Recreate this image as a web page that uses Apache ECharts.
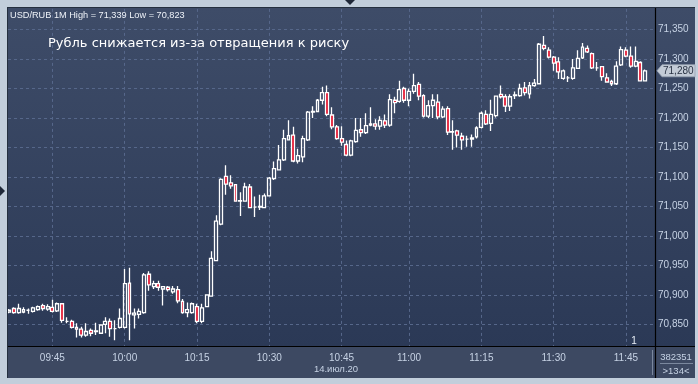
<!DOCTYPE html>
<html><head><meta charset="utf-8">
<script src="https://cdn.jsdelivr.net/npm/echarts@6/dist/echarts.min.js"></script>
<style>html,body{margin:0;padding:0;background:#c2cedb}#c{width:698px;height:384px}</style>
</head><body><div id="c"></div>
<script>
const opens = [70.871,70.877,70.870,70.871,70.874,70.872,70.875,70.882,70.876,70.879,70.873,70.885,70.855,70.855,70.845,70.842,70.832,70.840,70.838,70.835,
70.850,70.855,70.843,70.845,70.845,70.920,70.866,70.867,70.870,70.935,70.914,70.919,70.910,70.913,70.905,70.909,70.889,70.870,70.870,70.880,
70.855,70.880,70.898,70.958,71.020,71.101,71.090,71.087,71.059,71.059,71.083,71.049,71.049,71.048,71.068,71.097,71.112,71.129,71.163,71.171,
71.127,71.134,71.163,71.210,71.211,71.230,71.243,71.205,71.185,71.165,71.155,71.137,71.160,71.180,71.175,71.188,71.190,71.186,71.195,71.188,
71.230,71.228,71.250,71.230,71.245,71.257,71.238,71.203,71.221,71.227,71.202,71.216,71.176,71.178,71.169,71.164,71.164,71.168,71.184,71.206,
71.191,71.204,71.240,71.236,71.220,71.238,71.238,71.251,71.241,71.255,71.258,71.323,71.315,71.303,71.295,71.267,71.268,71.267,71.284,71.302,
71.318,71.309,71.285,71.287,71.268,71.262,71.258,71.290,71.315,71.305,71.288,71.294,71.263];
const closes = [70.874,70.870,70.877,70.875,70.874,70.878,70.880,70.877,70.880,70.872,70.885,70.857,70.855,70.845,70.842,70.832,70.838,70.835,70.839,70.849,
70.855,70.843,70.843,70.860,70.919,70.868,70.869,70.872,70.934,70.917,70.919,70.913,70.914,70.909,70.910,70.890,70.870,70.875,70.885,70.855,
70.878,70.900,70.962,71.025,71.096,71.088,71.085,71.059,71.060,71.083,71.048,71.049,71.050,71.068,71.098,71.114,71.129,71.165,71.170,71.127,
71.136,71.165,71.210,71.211,71.230,71.243,71.206,71.185,71.165,71.159,71.137,71.161,71.179,71.175,71.187,71.190,71.186,71.196,71.188,71.231,
71.226,71.248,71.230,71.245,71.255,71.237,71.203,71.221,71.230,71.202,71.215,71.176,71.177,71.171,71.163,71.164,71.166,71.183,71.208,71.190,
71.206,71.237,71.236,71.220,71.236,71.239,71.250,71.243,71.255,71.259,71.325,71.318,71.303,71.293,71.278,71.280,71.268,71.285,71.301,71.320,
71.312,71.285,71.285,71.270,71.261,71.258,71.288,71.316,71.305,71.288,71.296,71.263,71.280];
const lows = [70.869,70.868,70.868,70.869,70.868,70.870,70.873,70.873,70.873,70.870,70.871,70.853,70.852,70.843,70.828,70.828,70.829,70.830,70.832,70.834,
70.835,70.829,70.823,70.843,70.843,70.823,70.843,70.860,70.868,70.907,70.910,70.907,70.882,70.906,70.902,70.886,70.868,70.862,70.868,70.852,
70.852,70.880,70.897,70.957,71.018,71.070,71.080,71.058,71.034,71.058,71.047,71.032,71.044,71.047,71.067,71.095,71.111,71.127,71.162,71.125,
71.123,71.125,71.161,71.200,71.210,71.223,71.203,71.181,71.163,71.153,71.135,71.135,71.158,71.168,71.173,71.186,71.180,71.180,71.183,71.185,
71.208,71.226,71.226,71.220,71.241,71.230,71.201,71.200,71.200,71.198,71.200,71.171,71.146,71.150,71.146,71.151,71.151,71.165,71.182,71.188,
71.178,71.201,71.233,71.210,71.212,71.232,71.236,71.238,71.233,71.253,71.257,71.315,71.301,71.280,71.266,71.265,71.261,71.265,71.283,71.300,
71.310,71.283,71.280,71.263,71.260,71.254,71.256,71.288,71.303,71.285,71.286,71.262,71.262];
const highs = [70.876,70.879,70.885,70.879,70.877,70.880,70.882,70.885,70.884,70.892,70.887,70.886,70.862,70.858,70.852,70.846,70.852,70.843,70.853,70.850,
70.862,70.860,70.857,70.877,70.944,70.946,70.877,70.877,70.937,70.940,70.924,70.924,70.915,70.915,70.915,70.915,70.893,70.887,70.887,70.885,
70.885,70.901,70.974,71.035,71.098,71.120,71.103,71.088,71.074,71.090,71.088,71.067,71.070,71.072,71.100,71.126,71.154,71.180,71.196,71.185,
71.148,71.170,71.212,71.220,71.232,71.253,71.255,71.218,71.188,71.186,71.162,71.163,71.200,71.200,71.208,71.218,71.198,71.203,71.206,71.240,
71.236,71.263,71.253,71.250,71.275,71.261,71.240,71.230,71.240,71.240,71.220,71.220,71.196,71.180,71.175,71.170,71.172,71.186,71.211,71.213,
71.231,71.238,71.255,71.240,71.240,71.245,71.258,71.261,71.261,71.266,71.327,71.339,71.320,71.305,71.303,71.282,71.271,71.300,71.315,71.327,
71.323,71.311,71.295,71.288,71.276,71.265,71.296,71.321,71.320,71.321,71.321,71.296,71.282];

const startTime = '09:36';
const skippedMinutes = ['10:52'];
const timeTicks = ['09:45','10:00','10:15','10:30','10:45','11:00','11:15','11:30','11:45'];
const titleText = 'USD/RUB 1M High = 71,339 Low = 70,823';
const noteText = 'Рубль снижается из-за отвращения к риску';
const dateText = '14.июл.20';
const infoTop = '382351';
const infoBottom = '>134<';
const pageMark = '1';

const categories = [];
let [hh, mm] = startTime.split(':').map(Number);
while (categories.length < opens.length) {
  const s = String(hh).padStart(2, '0') + ':' + String(mm).padStart(2, '0');
  if (!skippedMinutes.includes(s)) categories.push(s);
  mm++; if (mm === 60) { mm = 0; hh++; }
}
const ohlc = opens.map((o, i) => [o, closes[i], lows[i], highs[i]]);
const lastPrice = closes[closes.length - 1];
const fmt = v => Number(v).toFixed(3).replace('.', ',');

const chart = echarts.init(document.getElementById('c'), null, {renderer: 'canvas', width: 698, height: 384});
const gridLine = '#56678a';
const labelColor = '#c6d2e4';
const frame = '#c2cedb';

const baseGraphics = [
  {type: 'rect', z: -100, shape: {x: 8, y: 8, width: 687, height: 339},
   style: {fill: new echarts.graphic.LinearGradient(0, 0, 0, 1, [
     {offset: 0, color: '#3e4c68'}, {offset: 1, color: '#2b3956'}])}},
  {type: 'rect', z: 50, shape: {x: 8, y: 347, width: 687, height: 31}, style: {fill: '#3d4962'}},
  {type: 'rect', z: 50, shape: {x: 0, y: 0, width: 698, height: 8}, style: {fill: frame}},
  {type: 'line', z: 55, shape: {x1: 7, y1: 7.5, x2: 695, y2: 7.5}, style: {stroke: '#25303f', lineWidth: 1}},
  {type: 'line', z: 55, shape: {x1: 7.5, y1: 7, x2: 7.5, y2: 378}, style: {stroke: '#25303f', lineWidth: 1}},
  {type: 'line', z: 55, shape: {x1: 8, y1: 346.5, x2: 695, y2: 346.5}, style: {stroke: '#000000', lineWidth: 1.2}},
  {type: 'line', z: 55, shape: {x1: 655.5, y1: 8, x2: 655.5, y2: 378}, style: {stroke: '#000000', lineWidth: 1.2}},
  {type: 'line', z: 55, shape: {x1: 652.5, y1: 350, x2: 652.5, y2: 375}, style: {stroke: '#7b889e', lineWidth: 1}},
  {type: 'line', z: 55, shape: {x1: 660, y1: 363.5, x2: 693, y2: 363.5}, style: {stroke: '#7b889e', lineWidth: 1}},
  {type: 'polygon', z: 55, shape: {points: [[0, 186], [5, 191], [0, 196]]}, style: {fill: '#1f2838'}},
  {type: 'polygon', z: 55, shape: {points: [[345, 0], [355, 0], [350, 5]]}, style: {fill: '#1f2838'}},
  {type: 'text', z: 60, x: 10, y: 15, style: {text: titleText, fill: '#eef2f8', fontSize: 9.2,
    fontFamily: 'Liberation Sans', verticalAlign: 'middle'}},
  {type: 'text', z: 60, x: 48, y: 44, style: {text: noteText, fill: '#ffffff', fontSize: 13,
    fontFamily: 'DejaVu Sans', verticalAlign: 'middle'}},
  {type: 'text', z: 60, x: 336, y: 369, style: {text: dateText, fill: labelColor, fontSize: 9.5,
    fontFamily: 'Liberation Sans', align: 'center', verticalAlign: 'middle'}},
  {type: 'text', z: 60, x: 676, y: 357, style: {text: infoTop, fill: labelColor, fontSize: 9.5,
    fontFamily: 'Liberation Sans', align: 'center', verticalAlign: 'middle'}},
  {type: 'text', z: 60, x: 676, y: 371, style: {text: infoBottom, fill: labelColor, fontSize: 9.5,
    fontFamily: 'Liberation Sans', align: 'center', verticalAlign: 'middle'}},
  {type: 'text', z: 60, x: 634, y: 341, style: {text: pageMark, fill: '#e8eef6', fontSize: 10,
    fontFamily: 'Liberation Sans', align: 'center', verticalAlign: 'middle'}}
];

chart.setOption({
  animation: false,
  backgroundColor: frame,
  grid: [
    {left: 6.6, width: 641, top: -4.9, bottom: 30.1},
    {left: 6.6, width: 641, top: 346, height: 1},
    {left: 8, right: 43, top: -4.9, bottom: 30.1}
  ],
  xAxis: [
    {type: 'category', gridIndex: 0, data: categories, boundaryGap: true, show: false},
    {type: 'category', gridIndex: 1, data: categories, boundaryGap: true, z: 60,
     axisLine: {show: false}, axisTick: {show: false}, splitLine: {show: false},
     axisLabel: {interval: (i, v) => timeTicks.includes(v), color: labelColor, fontSize: 10,
                 fontFamily: 'Liberation Sans', margin: 6}},
    {type: 'value', gridIndex: 2, min: 0, max: 1, show: false}
  ],
  yAxis: [
    {type: 'value', gridIndex: 0, min: 70.8, max: 71.4, show: false},
    {type: 'value', gridIndex: 1, show: false},
    {type: 'value', gridIndex: 2, position: 'right', min: 70.8, max: 71.4, interval: 0.05,
     axisLine: {show: false}, axisTick: {show: false},
     splitLine: {show: true, lineStyle: {color: gridLine, type: [3, 3], width: 1}},
     axisLabel: {showMinLabel: false, showMaxLabel: false, formatter: fmt, color: labelColor,
                 fontSize: 10, fontFamily: 'Liberation Sans', margin: 3}}
  ],
  series: [{
    type: 'candlestick', xAxisIndex: 0, yAxisIndex: 0, data: ohlc, barWidth: 3.4,
    itemStyle: {color: 'rgba(0,0,0,0)', color0: '#e3112c', borderColor: '#ffffff',
                borderColor0: '#ffffff', borderWidth: 1.3},
    markLine: {
      z: 1, silent: true, symbol: 'none', animation: false,
      label: {show: false},
      lineStyle: {color: gridLine, type: [3, 3], width: 1},
      data: timeTicks.map(t => ({xAxis: t}))
    }
  }],
  graphic: {elements: baseGraphics}
});

// current price tag, positioned through the y scale
const py = chart.convertToPixel({yAxisIndex: 0}, lastPrice);
chart.setOption({graphic: {elements: baseGraphics.concat([
  {type: 'polygon', z: 60, shape: {points: [[657, py], [662, py - 6], [695, py - 6], [695, py + 6], [662, py + 6]]},
   style: {fill: '#c3cbd6', stroke: '#9aa5b5', lineWidth: 0.8}},
  {type: 'text', z: 61, x: 663, y: py, style: {text: fmt(lastPrice), fill: '#2a3344', fontSize: 10,
    fontFamily: 'Liberation Sans', verticalAlign: 'middle'}}
])}});
</script>
</body></html>
